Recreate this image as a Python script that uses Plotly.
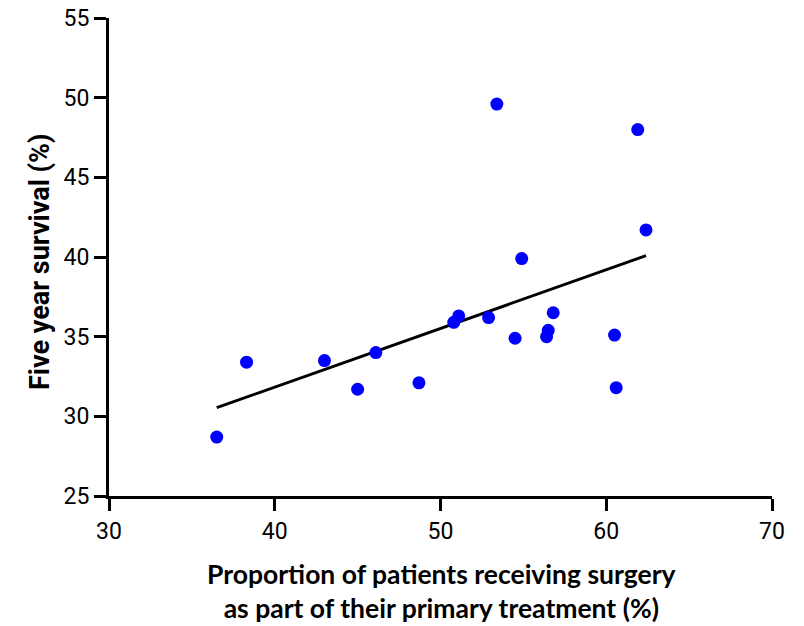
import numpy as np
import plotly.graph_objects as go

# Data
surgery_pct = [36.5, 38.3, 43.0, 45.0, 46.1, 48.7, 50.8, 51.1, 52.9, 53.4,
               54.5, 54.9, 56.4, 56.5, 56.8, 60.5, 60.6, 61.9, 62.4]
survival_pct = [28.7, 33.4, 33.5, 31.7, 34.0, 32.1, 35.9, 36.3, 36.2, 49.6,
                34.9, 39.9, 35.0, 35.4, 36.5, 35.1, 31.8, 48.0, 41.7]

x_ticks = [30, 40, 50, 60, 70]
y_ticks = [25, 30, 35, 40, 45, 50, 55]

x_title = "<b>Proportion of patients receiving surgery<br>as part of their primary treatment (%)</b>"
y_title = "<b>Five year survival (%)</b>"

# Linear regression line over the data range
slope, intercept = np.polyfit(surgery_pct, survival_pct, 1)
fit_x = [min(surgery_pct), max(surgery_pct)]
fit_y = [slope * v + intercept for v in fit_x]

W, H = 804, 626
L, T = 109, 18
R = W - 772
B = H - 496
plot_w = W - L - R
plot_h = H - T - B


def px_to_paper(px, py):
    """Convert window pixel position to paper coords."""
    return (px - L) / plot_w, (H - B - py) / plot_h


tick_font = dict(family="Roboto, sans-serif", size=23, color="black")

fig = go.Figure()
fig.add_trace(go.Scatter(x=fit_x, y=fit_y, mode="lines",
                         line=dict(color="black", width=3), showlegend=False,
                         hoverinfo="skip"))
fig.add_trace(go.Scatter(x=surgery_pct, y=survival_pct, mode="markers",
                         marker=dict(color="#0000FF", size=13), showlegend=False))

yx, yy = px_to_paper(40, 262)
xx, xy = px_to_paper(441, 591)

axis_common = dict(showgrid=False, zeroline=False,
                   showline=True, linecolor="black", linewidth=3,
                   ticks="outside", ticklen=12, tickwidth=3, tickcolor="black",
                   tickfont=tick_font, ticklabeloverflow="allow")

fig.update_layout(
    width=W, height=H,
    margin=dict(l=L, r=R, t=T, b=B, autoexpand=False),
    paper_bgcolor="white", plot_bgcolor="white",
    xaxis=dict(range=[30, 70], tickvals=x_ticks, **axis_common),
    yaxis=dict(range=[25, 55], tickvals=y_ticks, **axis_common),
    annotations=[
        dict(text=y_title, textangle=-90, x=yx, y=yy, xref="paper", yref="paper",
             xanchor="center", yanchor="middle", showarrow=False,
             font=dict(family="Roboto, sans-serif", size=27, color="black")),
        dict(text=x_title, x=xx, y=xy, xref="paper", yref="paper",
             xanchor="center", yanchor="middle", showarrow=False,
             font=dict(family="Lato, sans-serif", size=26.5, color="black")),
    ],
)

fig.write_html("out.html",
               config={"displayModeBar": False},
               post_script="document.body.style.margin='0';document.body.style.overflow='hidden';")
